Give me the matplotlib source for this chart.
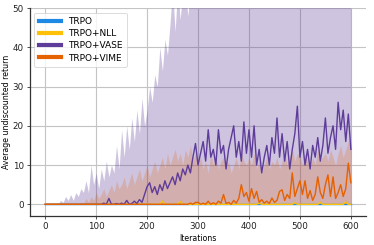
import numpy as np
import matplotlib
matplotlib.use("Agg")
import matplotlib.pyplot as plt

# iterations sampled every 5 steps (0..600)
iters = np.arange(0, 601, 5)

vase_mean = [
    0, 0, 0, 0, 0, 0, 0, 0, 0, 0,
    0, 0, 0, 0, 0, 0, 0, 0, 0, 0,
    0, 0, 0, 0.3, 0, 1.5, 0, 0, 0.2, 0,
    0.3, 0, 1.0, 0, 0.2, 0.8, 0.2, 1.2, 0.5, 2.5,
    4.5, 5.5, 3.0, 4.5, 2.5, 5.0, 3.5, 6.0, 4.0, 5.5,
    7.0, 5.0, 8.0, 6.0, 9.0, 7.5, 10.0, 8.0, 12.0, 15.5,
    10, 13, 16, 11, 19, 12, 14, 10, 19, 13,
    15, 9, 14, 17, 20, 12, 16, 11, 21, 13,
    19, 12, 20, 10, 14, 8, 12, 15, 10, 17,
    13, 22, 12, 18, 11, 16, 9, 14, 18, 25,
    12, 16, 10, 14, 9, 15, 12, 17, 11, 15,
    22, 13, 17, 20, 14, 26, 19, 24, 16, 23,
    14,
]
vase_upper = [
    0, 0, 0, 0, 0, 0, 1.0, 0.5, 2.0, 1.0,
    2.5, 1.0, 3.0, 2.0, 4.0, 3.0, 6.0, 3.0, 10.0, 5.0,
    8, 4, 9, 6, 11, 7, 10, 8, 15, 9,
    19, 12, 20, 14, 22, 16, 24, 18, 27, 20,
    24, 30, 26, 33, 30, 40, 34, 42, 38, 46,
    55, 44, 55, 47, 55, 55, 48, 55, 55, 55,
    55, 55, 55, 55, 55, 55, 55, 55, 55, 55,
    55, 55, 55, 55, 55, 55, 55, 55, 55, 55,
    55, 55, 55, 55, 55, 55, 55, 55, 55, 55,
    55, 55, 55, 55, 55, 55, 55, 55, 55, 55,
    55, 55, 55, 55, 55, 55, 55, 55, 55, 55,
    55, 55, 55, 55, 55, 55, 55, 55, 55, 55,
    55,
]
vime_mean = [
    0, 0, 0, 0, 0, 0, 0, 0, 0, 0,
    0, 0, 0, 0, 0, 0, 0, 0, 0, 0,
    0, 0, 0, 0, 0, 0, 0, 0, 0, 0,
    0, 0, 0, 0, 0, 0, 0, 0, 0, 0,
    0, 0, 0, 0, 0, 0, 0, 0, 0, 0,
    0, 0, 0, 0, 0, 0, 0, 0.3, 0, 0.5,
    0.5, 0, 0.3, 0, 0.8, 0, 0.4, 0, 0.8, 0.3,
    2.5, 0.2, 0.5, 0, 1.0, 0.3, 1.5, 5.0, 2.0, 3.0,
    0.8, 4.0, 1.5, 3.3, 0.5, 1.2, 0.3, 0.8, 0.2, 1.6,
    0.5, 1.0, 3.3, 3.7, 1.0, 2.5, 1.5, 8.0, 2.0, 4.0,
    6.0, 2.5, 6.0, 1.5, 3.5, 1.0, 2.5, 7.0, 3.0, 1.5,
    5.0, 7.5, 2.0, 7.0, 1.5, 3.0, 5.0, 2.0, 4.0, 10.5,
    5.5,
]
vime_upper = [
    0, 0, 0, 0, 0, 0, 0, 0, 0, 0,
    0, 0, 0, 0, 0.5, 0.2, 1.5, 0.5, 2.0, 1.0,
    3, 1.5, 2.5, 4, 2, 3.5, 5, 3, 6, 4,
    5, 7, 4, 6, 8, 5, 7, 9, 6, 8,
    10, 7, 9, 11, 8, 10, 12, 9, 13, 10,
    12, 14, 11, 13, 10, 14, 12, 15, 11, 13,
    10, 12, 9, 11, 8, 13, 10, 12, 9, 11,
    12, 9, 11, 8, 10, 12, 9, 13, 11, 10,
    12, 10, 13, 9, 11, 8, 10, 12, 9, 11,
    10, 12, 9, 11, 13, 10, 12, 14, 11, 13,
    12, 10, 13, 11, 9, 12, 10, 14, 11, 12,
    13, 11, 14, 12, 10, 13, 15, 12, 14, 16,
    14,
]
nll_mean = [
    0, 0, 0, 0, 0, 0, 0, 0, 0, 0,
    0, 0, 0, 0, 0, 0, 0, 0, 0, 0,
    0, 0, 0, 0, 0, 0, 0, 0, 0, 0,
    0, 0, 0, 0, 0, 0, 0, 0, 0, 0,
    0, 0, 0, 0, 0, 0, 0.8, 0, 0, 0,
    0, 0, 0, 0.7, 0, 0, 0, 0, 0, 0,
    0, 0, 0, 0, 0, 0, 0, 0, 0, 0,
    0, 0, 0, 0, 0, 0, 0, 0, 0, 0,
    0, 0, 0, 0, 0.3, 0, 0, 0, 0, 0,
    0, 0, 0, 0, 0, 0, 0, 0, 0.4, 0,
    0, 0, 0, 0, 0, 0, 0, 0, 0.5, 0,
    0, 0, 0, 0, 0, 0, 0, 0, 0.6, 0,
    0,
]
nll_upper = [
    0, 0, 0, 0, 0, 0, 0, 0, 0, 0,
    0, 0, 0, 0, 0, 0, 0, 0, 0, 0,
    0, 0, 0, 0, 0, 0, 0, 0, 0, 0,
    0, 0, 0, 0, 0, 0, 0, 0, 0, 0,
    0, 0, 0, 0, 0, 0, 1.5, 0, 0, 0,
    0, 0, 0, 1.3, 0, 0, 0, 0, 0, 0,
    0, 0, 0, 0, 0, 0, 0, 0, 0, 0,
    0, 0, 0, 0, 0, 0, 0, 0, 0, 0,
    0, 0, 0, 0, 0.6, 0, 0, 0, 0, 0,
    0, 0, 0, 0, 0, 0, 0, 0, 0.8, 0,
    0, 0, 0, 0, 0, 0, 0, 0, 1.0, 0,
    0, 0, 0, 0, 0, 0, 0, 0, 1.2, 0,
    0,
]
trpo_mean = np.zeros(len(iters))

labels = ['TRPO', 'TRPO+NLL', 'TRPO+VASE', 'TRPO+VIME']
colors = ['#1E88E5', '#FFC107', '#5E3C99', '#E66100']
band_alpha = [0.3, 0.3, 0.3, 0.22]
means = [trpo_mean, nll_mean, vase_mean, vime_mean]
uppers = [trpo_mean, nll_upper, vase_upper, vime_upper]

fig = plt.figure(figsize=(3.74, 2.45), dpi=100)
ax = fig.add_axes([0.080, 0.118, 0.899, 0.849])

for u, c, a in zip(uppers, colors, band_alpha):
    ax.fill_between(iters, 0, u, color=c, alpha=a, lw=0)
for m, c, lab in zip(means, colors, labels):
    ax.plot(iters, m, color=c, lw=1.0, label=lab)

ax.set_xlim(-30, 630)
ax.set_ylim(-3, 50)
ax.set_xticks([0, 100, 200, 300, 400, 500, 600])
ax.set_yticks([0, 10, 20, 30, 40, 50])
ax.grid(True, color='#c4c4c4', lw=0.8)
ax.set_axisbelow(True)
for s in ['top', 'right']:
    ax.spines[s].set_visible(False)
for s in ['left', 'bottom']:
    ax.spines[s].set_color('#333333')
    ax.spines[s].set_linewidth(0.9)
ax.tick_params(labelsize=6.3, length=2.5, width=0.6, colors='#333333', labelcolor='#222222', pad=2)
ax.set_xlabel('Iterations', fontsize=5.6, labelpad=2)
ax.set_ylabel('Average undiscounted return', fontsize=5.6, labelpad=1)

leg = ax.legend(loc='upper left', fontsize=6.5, handlelength=2.4, borderpad=0.5,
                labelspacing=0.35, frameon=True, fancybox=True)
for line in leg.get_lines():
    line.set_linewidth(3)
leg.get_frame().set_edgecolor('#cccccc')
leg.get_frame().set_linewidth(0.6)

fig.savefig('out.png', dpi=100)
